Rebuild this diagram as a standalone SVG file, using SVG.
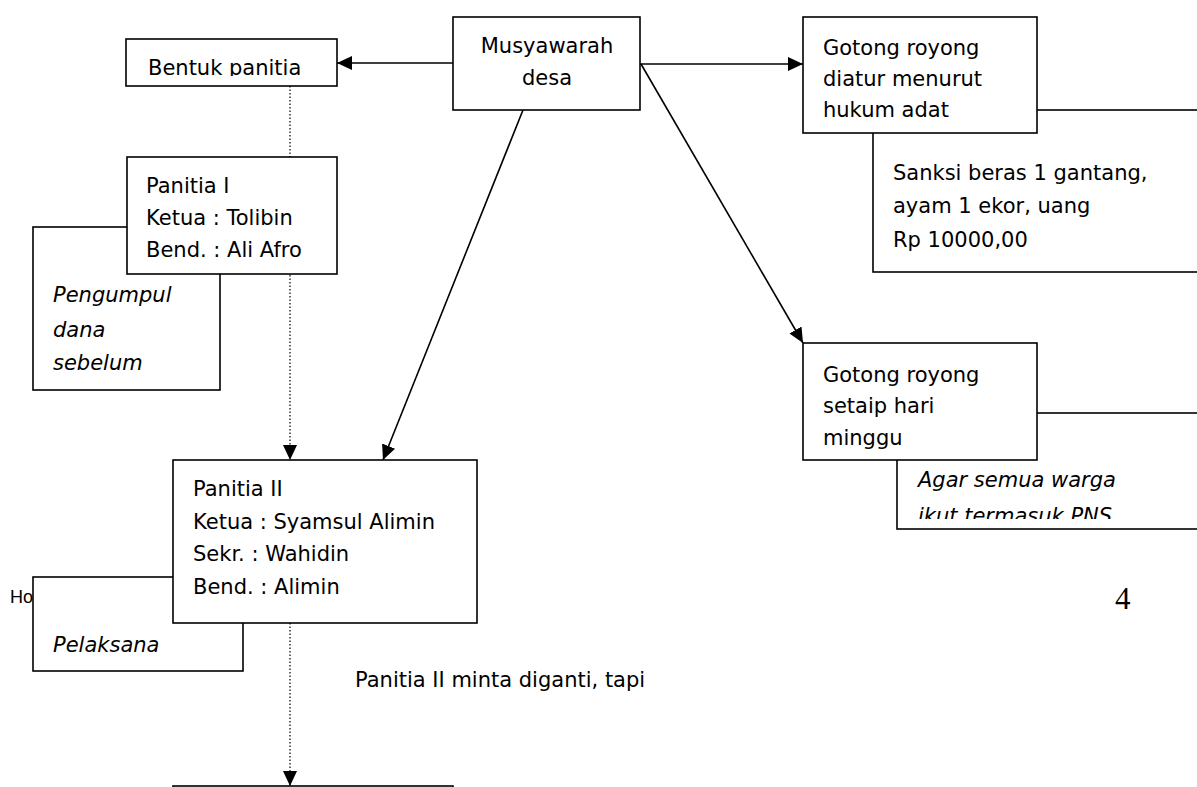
<svg xmlns="http://www.w3.org/2000/svg" width="1197" height="787" viewBox="0 0 1197 787">
<defs>
<style>
.box{fill:#fff;stroke:#000;stroke-width:1.6}
.ln{fill:none;stroke:#000;stroke-width:1.6}
.dot{fill:none;stroke:#000;stroke-width:1.2;stroke-dasharray:1.5 2}
.t{font-family:"DejaVu Sans","Liberation Sans",sans-serif;font-size:21px;fill:#000}
.i{font-style:italic}
.c{text-anchor:middle}
</style>
<marker id="arr" markerUnits="userSpaceOnUse" markerWidth="15" markerHeight="14" refX="15" refY="7" orient="auto">
<path d="M0,0 L15,7 L0,14 z" fill="#000"/>
</marker>
<clipPath id="clipBentuk"><rect x="126" y="39" width="211" height="37"/></clipPath>
<clipPath id="clipMinggu"><rect x="803" y="343" width="234" height="108"/></clipPath>
<clipPath id="clipAgar"><rect x="897" y="413" width="300" height="106"/></clipPath>
</defs>
<rect x="0" y="0" width="1197" height="787" fill="#fff"/>

<g id="connectors">
<line class="ln" x1="453" y1="63" x2="337" y2="63" marker-end="url(#arr)"/>
<line class="ln" x1="640" y1="64" x2="803" y2="64" marker-end="url(#arr)"/>
<line class="ln" x1="523" y1="110" x2="383" y2="460" marker-end="url(#arr)"/>
<line class="ln" x1="641" y1="64" x2="803" y2="343" marker-end="url(#arr)"/>
<line class="dot" x1="290" y1="86" x2="290" y2="460" marker-end="url(#arr)"/>
<line class="dot" x1="290" y1="623" x2="290" y2="786" marker-end="url(#arr)"/>
</g>

<g id="footer-ho">
<text x="10" y="603" style="font-family:'Liberation Sans',Arial,sans-serif;font-size:18px">Ho</text>
</g>

<g id="node-musyawarah">
<rect class="box" x="453" y="17" width="187" height="93"/>
<text class="t c" x="547" y="53">Musyawarah</text>
<text class="t c" x="547" y="85">desa</text>
</g>

<g id="node-bentuk">
<rect class="box" x="126" y="39" width="211" height="47"/>
<text class="t" x="148" y="75" clip-path="url(#clipBentuk)">Bentuk panitia</text>
</g>

<g id="node-pengumpul">
<rect class="box" x="33" y="227" width="187" height="163"/>
<text class="t i" x="53" y="302">Pengumpul</text>
<text class="t i" x="53" y="337">dana</text>
<text class="t i" x="53" y="370">sebelum</text>
</g>

<g id="node-panitia1">
<rect class="box" x="127" y="157" width="210" height="117"/>
<text class="t" x="146" y="193">Panitia I</text>
<text class="t" x="146" y="225">Ketua : Tolibin</text>
<text class="t" x="146" y="257">Bend. : Ali Afro</text>
</g>

<g id="node-pelaksana">
<rect class="box" x="33" y="577" width="210" height="94"/>
<text class="t i" x="53" y="652">Pelaksana</text>
</g>

<g id="node-panitia2">
<rect class="box" x="173" y="460" width="304" height="163"/>
<text class="t" x="193" y="496">Panitia II</text>
<text class="t" x="193" y="529">Ketua : Syamsul Alimin</text>
<text class="t" x="193" y="561">Sekr. : Wahidin</text>
<text class="t" x="193" y="594">Bend. : Alimin</text>
</g>

<g id="node-sanksi">
<rect class="box" x="873" y="110" width="340" height="162"/>
<text class="t" x="893" y="180">Sanksi beras 1 gantang,</text>
<text class="t" x="893" y="213">ayam 1 ekor, uang</text>
<text class="t" x="893" y="247">Rp 10000,00</text>
</g>

<g id="node-gotong1">
<rect class="box" x="803" y="17" width="234" height="116"/>
<text class="t" x="823" y="55">Gotong royong</text>
<text class="t" x="823" y="86">diatur menurut</text>
<text class="t" x="823" y="117">hukum adat</text>
</g>

<g id="node-agar">
<rect class="box" x="897" y="413" width="320" height="116"/>
<g clip-path="url(#clipAgar)">
<text class="t i" x="918" y="487">Agar semua warga</text>
<text class="t i" x="918" y="523">ikut termasuk PNS</text>
</g>
</g>

<g id="node-gotong2">
<rect class="box" x="803" y="343" width="234" height="117"/>
<g clip-path="url(#clipMinggu)">
<text class="t" x="823" y="382">Gotong royong</text>
<text class="t" x="823" y="413">setaip hari</text>
<text class="t" x="823" y="445">minggu</text>
</g>
</g>

<g id="label-minta">
<text class="t" x="355" y="687">Panitia II minta diganti, tapi</text>
</g>

<g id="node-bottom">
<rect class="box" x="173" y="786" width="280" height="40"/>
</g>

<g id="page-number">
<text x="1115" y="609" style="font-family:'Liberation Serif','Times New Roman',serif;font-size:31px">4</text>
</g>
</svg>
